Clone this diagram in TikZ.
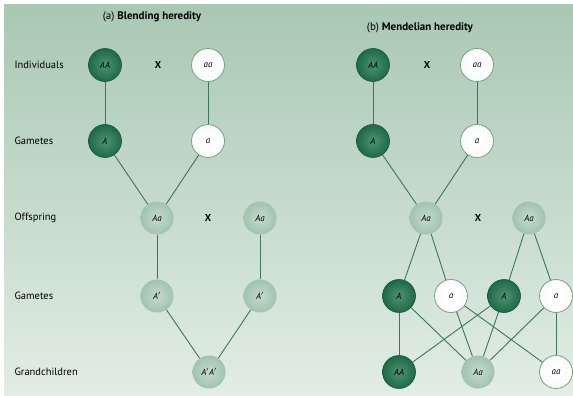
\documentclass[tikz,border=0pt]{standalone}
\usepackage{fontspec}
\setmainfont{PT Sans}
\usetikzlibrary{positioning}
\definecolor{bgtop}{HTML}{A9C8B3}
\definecolor{bgbot}{HTML}{E2EDE5}
\definecolor{domgreen}{HTML}{1E6A46}
\definecolor{domlight}{HTML}{4E9271}
\definecolor{hetgreen}{HTML}{A2C3AE}
\definecolor{hetlight}{HTML}{C4DACB}
\definecolor{ringgrey}{HTML}{7E9C8A}
\definecolor{linkgreen}{HTML}{3E7757}

\begin{document}
\begin{tikzpicture}[x=1pt, y=-1pt]
            \tikzstyle{allele}=[circle, minimum size=33pt, inner sep=0pt, font=\fontsize{9}{10}\selectfont\itshape]
            \tikzstyle{dom}=[allele, draw=domgreen!80!black, line width=0.6pt, inner color=domlight, outer color=domgreen]
            \tikzstyle{rec}=[allele, draw=ringgrey, line width=0.8pt, inner color=white, outer color=white!93!bgtop]
            \tikzstyle{het}=[allele, inner color=hetlight, outer color=hetgreen]
            \tikzstyle{row}=[anchor=west, font=\fontsize{10.5}{12}\selectfont]
            \tikzstyle{cross}=[font=\fontsize{10}{11}\selectfont\bfseries]
            \tikzstyle{link}=[draw=linkgreen, line width=0.9pt]
            \useasboundingbox (0,0) rectangle (573,396);
            \fill[top color=bgtop, bottom color=bgbot] (4,5) rectangle (573,396);
            % row labels
            \node[row] (lind) at (11,65) {Individuals};
            \node[row] (lgam) at (11,141) {Gametes};
            \node[row] (loff) at (11,218) {Offspring};
            \node[row] (lgam2) at (11,296) {Gametes};
            \node[row] (lgrand) at (11,372) {Grandchildren};
            % (a) blending
            \node[font=\fontsize{11}{12}\selectfont] (titlea) at (152,17) {(a) \textbf{Blending heredity}};
            \node[dom] (aAA) at (105,65) {AA};
            \node[cross] (ax1) at (158,65) {X};
            \node[rec] (aaa) at (208,65) {aa};
            \node[dom] (aA) at (105,141) {A};
            \node[rec] (aa) at (208,141) {a};
            \node[het] (aAa1) at (157,218) {Aa};
            \node[cross] (ax2) at (208,218) {X};
            \node[het] (aAa2) at (260,218) {Aa};
            \node[het] (aAp1) at (157,296) {A$'$};
            \node[het] (aAp2) at (260,296) {A$'$};
            \node[het] (aApAp) at (209,372) {A$'$A$'$};
            \draw[link] (aAA) -- (aA);
            \draw[link] (aaa) -- (aa);
            \draw[link] (aA) -- (aAa1);
            \draw[link] (aa) -- (aAa1);
            \draw[link] (aAa1) -- (aAp1);
            \draw[link] (aAa2) -- (aAp2);
            \draw[link] (aAp1) -- (aApAp);
            \draw[link] (aAp2) -- (aApAp);
            % (b) mendelian
            \node[font=\fontsize{11}{12}\selectfont] (titleb) at (420,28) {(b) \textbf{Mendelian heredity}};
            \node[dom] (bAA) at (373,65) {AA};
            \node[cross] (bx1) at (427,65) {X};
            \node[rec] (baa) at (477,65) {aa};
            \node[dom] (bA) at (373,141) {A};
            \node[rec] (ba) at (477,141) {a};
            \node[het] (bAa1) at (426,218) {Aa};
            \node[cross] (bx2) at (478,218) {X};
            \node[het] (bAa2) at (529,218) {Aa};
            \node[dom] (bg1) at (399,296) {A};
            \node[rec] (bg2) at (451,296) {a};
            \node[dom] (bg3) at (504,296) {A};
            \node[rec] (bg4) at (556,296) {a};
            \node[dom] (bcAA) at (399,372) {AA};
            \node[het] (bcAa) at (478,372) {Aa};
            \node[rec] (bcaa) at (556,372) {aa};
            \draw[link] (bAA) -- (bA);
            \draw[link] (baa) -- (ba);
            \draw[link] (bA) -- (bAa1);
            \draw[link] (ba) -- (bAa1);
            \draw[link] (bAa1) -- (bg1);
            \draw[link] (bAa1) -- (bg2);
            \draw[link] (bAa2) -- (bg3);
            \draw[link] (bAa2) -- (bg4);
            \draw[link] (bg1) -- (bcAA);
            \draw[link] (bg3) -- (bcAA);
            \draw[link] (bg1) -- (bcAa);
            \draw[link] (bg2) -- (bcAa);
            \draw[link] (bg3) -- (bcAa);
            \draw[link] (bg4) -- (bcAa);
            \draw[link] (bg2) -- (bcaa);
            \draw[link] (bg4) -- (bcaa);
\end{tikzpicture}
\end{document}
